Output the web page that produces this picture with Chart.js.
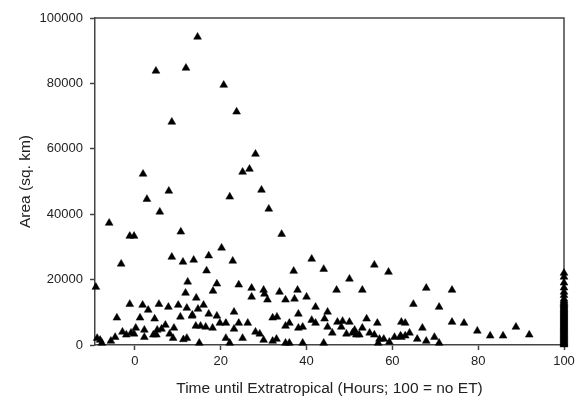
<!DOCTYPE html>
<html lang="en">
<head>
    <meta charset="UTF-8">
    <title>Area vs time until ET</title>
    <script src="https://cdn.jsdelivr.net/npm/chart.js"></script>
    <style>
        html, body { margin: 0; padding: 0; background: #fff; }
    </style>
</head>
<body>
<canvas id="chart" width="581" height="401"></canvas>
<script>
    // storms that became extratropical: hours until ET / area (sq. km)
    const hoursEt = [
        -9.1, 4.9, 11.9, 14.6, 8.6, 1.9, 7.9, 2.8, 5.8, -6.0, -1.2, -0.2, 10.7, -3.2, 8.6, 11.2, 13.7, 12.3, 11.8, 14.3,
        20.7, 23.7, 28.1, 25.1, 26.7, 29.5, 22.1, 31.2, 34.2, 20.2, 17.2, 22.8, 16.7, 41.2, 37.0, 44.0, 55.8, 59.1,
        19.1, 24.2, 18.2, 27.2, 30.0, 27.2, 30.2, 33.7, 37.9, 30.9, 35.1, 37.2, 40.0, 47.0, 50.0, 53.0,
        16.0, 12.1, 13.3, 17.2, 19.1, 23.1, 32.1, 33.1, 38.1, 41.2, 42.1, 44.2, 47.2, 48.4, 50.0, 54.0, 56.5,
        14.2, 15.3, 16.5, 18.1, 19.8, 21.2, 24.2, 26.3, 23.1, 28.1, 29.1, 35.1, 36.0, 38.1, 39.1, 44.9, 46.0,
        49.3, 50.7, 51.6, 52.3, 53.0, 54.7, 55.8, 11.3, 12.1, 15.0, 21.2, 22.1, 25.1, 30.0, 32.1, 33.0, 35.1,
        36.0, 39.1, 44.0, 56.7,
        -8.8, -8.1, -7.7, -5.6, -4.6, -4.2, -2.9, -2.0, -1.2, -0.9, -0.2, 0.2, 1.2, 1.8, 2.2, 2.2, 3.1, 4.6,
        4.3, 5.2, 5.0, 5.6, 6.2, 7.1, 7.8, 8.1, 8.9, 9.1, 10.1, 10.6, 13.4, 14.7,
        42.1, 44.9, 62.1, 48.1, 51.2, 57.0, 58.0, 59.3, 60.5, 61.9, 67.9, 73.9, 64.9, 70.9, 63.0, 73.9, 76.7,
        79.8, 82.8, 85.8, 67.0, 64.0, 63.0, 62.1, 65.8, 67.9, 69.8, 70.9, 88.8, 91.9
    ];
    const areaEt = [
        17700, 83800, 84700, 94200, 68200, 52300, 47100, 44600, 40700, 37300, 33300, 33300, 34600, 24800, 26900, 25400, 26000, 19300, 15900, 14400,
        79500, 71300, 58400, 52900, 53800, 47400, 45300, 41600, 33900, 29700, 27300, 25700, 22700, 26300, 22600, 23200, 24500, 22300,
        18700, 18400, 16500, 17400, 16800, 14700, 15600, 16200, 16800, 13800, 13800, 14100, 14700, 16800, 20200, 16800,
        12200, 11300, 8900, 9500, 8900, 10100, 8300, 8600, 9500, 7600, 6700, 8000, 7000, 7300, 7000, 8000, 6700,
        5800, 5800, 5500, 5200, 6700, 6700, 6700, 6700, 4900, 4000, 3400, 5800, 6700, 5200, 5500, 5500, 3700,
        3400, 3700, 3100, 3100, 5200, 3700, 3100, 1700, 2100, 600, 2100, 600, 2100, 1500, 1200, 1800, 600,
        600, 600, 600, 600,
        2100, 1500, 600, 1200, 2400, 8300, 4000, 3100, 12500, 3700, 3400, 5200, 8300, 12200, 4600, 2400, 10700, 8000,
        3100, 4600, 3100, 12500, 4900, 6100, 11600, 3400, 2100, 5200, 12200, 8600, 9200, 11000,
        11600, 10100, 7000, 5500, 4600, 1800, 1800, 900, 2400, 2800, 17400, 16800, 12500, 11600, 6700, 7000, 6700,
        4300, 2800, 2800, 5200, 3700, 2800, 2400, 1800, 1200, 2400, 600, 5500, 3100
    ];
    // storms that never became extratropical are plotted at 100
    const noEtHour = 100;
    const areaNoEt = [
        22000, 20800, 19000, 17500, 16200, 15200, 14100, 13500, 13100, 12700, 12400, 12000, 11700, 11300,
        11000, 10700, 10400, 10100, 9800, 9500, 9200, 8900, 8600, 8300, 8000, 7700, 7400, 7100, 6800,
        6500, 6200, 5900, 5600, 5300, 5000, 4700, 4400, 4100, 3800, 3500, 3200, 2900, 2600, 2300, 2000,
        1700, 1400, 1100, 800, 500, 300, 100
    ];
    const xTicks = [0, 20, 40, 60, 80, 100];
    const yTicks = [0, 20000, 40000, 60000, 80000, 100000];

    const points = hoursEt.map((h, i) => ({ x: h, y: areaEt[i] }))
        .concat(areaNoEt.map(a => ({ x: noEtHour, y: a })));

    const axisColor = '#444';
    const textColor = '#222';
    const font = { family: 'Liberation Sans, Arial, sans-serif', size: 13 };

    // top and right lines of the box
    const frame = {
        id: 'frame',
        beforeDatasetsDraw(chart) {
            const a = chart.chartArea, ctx = chart.ctx;
            ctx.save();
            ctx.strokeStyle = axisColor;
            ctx.lineWidth = 1.5;
            ctx.beginPath();
            ctx.moveTo(a.left, a.top);
            ctx.lineTo(a.right, a.top);
            ctx.lineTo(a.right, a.bottom);
            ctx.stroke();
            ctx.restore();
        }
    };

    new Chart(document.getElementById('chart'), {
        type: 'scatter',
        data: {
            datasets: [{
                data: points,
                pointStyle: 'triangle',
                pointRadius: 4.5,
                pointBackgroundColor: '#000',
                pointBorderColor: '#000',
                pointBorderWidth: 0.5,
                clip: false
            }]
        },
        plugins: [frame],
        options: {
            responsive: false,
            animation: false,
            events: [],
            layout: { padding: { left: 12, top: 18, right: 17, bottom: 0 } },
            plugins: { legend: { display: false }, tooltip: { enabled: false } },
            scales: {
                x: {
                    type: 'linear',
                    min: -9.3,
                    max: 100,
                    afterBuildTicks: axis => { axis.ticks = xTicks.map(v => ({ value: v })); },
                    afterFit: axis => { axis.height = 56; },
                    grid: { drawOnChartArea: false, tickLength: 5, tickColor: axisColor, tickWidth: 1.5 },
                    border: { color: axisColor, width: 1.5 },
                    ticks: { color: textColor, font: font, padding: 4, maxRotation: 0 },
                    title: {
                        display: true,
                        text: 'Time until Extratropical (Hours; 100 = no ET)',
                        color: textColor,
                        font: { family: font.family, size: 15.5 },
                        padding: { top: 4, bottom: 3 }
                    }
                },
                y: {
                    type: 'linear',
                    min: 0,
                    max: 100000,
                    afterBuildTicks: axis => { axis.ticks = yTicks.map(v => ({ value: v })); },
                    afterFit: axis => { axis.width = 83; },
                    grid: { drawOnChartArea: false, tickLength: 5, tickColor: axisColor, tickWidth: 1.5 },
                    border: { color: axisColor, width: 1.5 },
                    ticks: { color: textColor, font: font, padding: 7, callback: v => String(v) },
                    title: {
                        display: true,
                        text: 'Area (sq. km)',
                        color: textColor,
                        font: { family: font.family, size: 15.5 },
                        padding: { top: 4, bottom: 4 }
                    }
                }
            }
        }
    });
</script>
</body>
</html>
